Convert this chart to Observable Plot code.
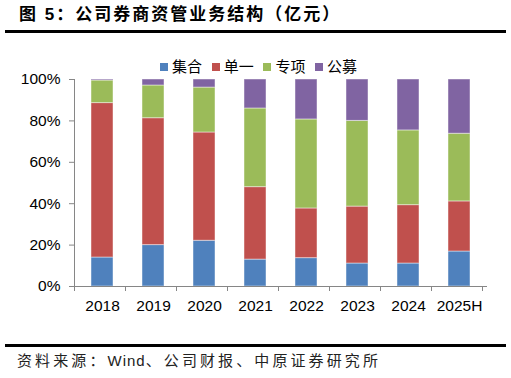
<!DOCTYPE html>
<html><head><meta charset="utf-8">
<script src="https://cdn.jsdelivr.net/npm/d3@7"></script>
<script src="https://cdn.jsdelivr.net/npm/@observablehq/plot@0.6"></script>
<style>
html,body{margin:0;padding:0;background:#fff;}
body{width:511px;height:378px;position:relative;overflow:hidden;font-family:"Liberation Sans","Noto Sans CJK SC",sans-serif;}
#title{position:absolute;left:19px;top:4px;font-size:17px;line-height:22px;font-weight:bold;color:#000;letter-spacing:2px;white-space:nowrap;}
#tline{position:absolute;left:5px;width:501px;top:30px;height:3px;background:#000;}
#fline{position:absolute;left:5px;width:501px;top:344px;height:3px;background:#000;}
#source{position:absolute;left:17px;top:351px;font-size:15px;line-height:20px;color:#222;letter-spacing:3.1px;white-space:nowrap;}
#source .en{letter-spacing:1px;}
#chart{position:absolute;left:0;top:40px;z-index:1;}
#legend{position:absolute;top:58px;left:0;width:511px;height:20px;font-size:15px;line-height:18px;color:#000;z-index:2;}
#legend .it{position:absolute;top:0;display:flex;align-items:center;white-space:nowrap;}
#legend .sw{width:8px;height:8px;display:inline-block;margin-right:4px;}
</style></head>
<body>
<div id="title">图 5：公司券商资管业务结构（亿元）</div>
<div id="tline"></div>
<div id="chart"></div>
<div id="legend"></div>
<div id="fline"></div>
<div id="source">资料来源：<span class="en">Wind</span>、公司财报、中原证券研究所</div>
<script>
const years = ["2018","2019","2020","2021","2022","2023","2024","2025H"];
const seriesNames = ["集合","单一","专项","公募"];
const colors = ["#4F81BD","#C0504D","#9BBB59","#8064A2"];
const jihe = [14.0, 20.0, 22.1, 13.0, 13.7, 11.1, 11.1, 16.9];
const danyi = [74.6, 61.3, 52.3, 35.0, 24.0, 27.5, 28.2, 24.2];
const zhuanxiang = [10.9, 15.8, 21.7, 38.0, 43.0, 41.4, 36.1, 32.7];
const gongmu = [0.5, 2.9, 3.9, 14.0, 19.3, 20.0, 24.6, 26.2];
const yTicks = [0, 20, 40, 60, 80, 100];

const seriesValues = [jihe, danyi, zhuanxiang, gongmu];
const data = [];
years.forEach((y, i) => seriesNames.forEach((s, j) => data.push({year: y, type: s, value: seriesValues[j][i]})));

const chart = Plot.plot({
  width: 511,
  height: 290,
  marginTop: 39,
  marginBottom: 44,
  marginLeft: 74,
  marginRight: 24,
  style: {fontFamily: "Liberation Sans, Arial, sans-serif", fontSize: "15.5px", color: "#000", background: "#fff"},
  x: {domain: years, paddingInner: 0.57, paddingOuter: 0.285, label: null, axis: null},
  y: {domain: [0, 100], ticks: yTicks, label: null, axis: null},
  color: {domain: seriesNames, range: colors},
  marks: [
    Plot.barY(data, {x: "year", y: "value", fill: "type", order: seriesNames, stroke: "#fff", strokeOpacity: 0.45, strokeWidth: 1}),
    Plot.axisY(yTicks, {tickSize: 5, tickPadding: 9, tickFormat: d => d + "%", stroke: "#868686", fill: "#000", fontSize: 15.5}),
    Plot.axisX(years, {tickSize: 0, tickPadding: 13, fill: "#000", fontSize: 15.5})
  ]
});
document.getElementById("chart").appendChild(chart);

// axis lines and boundary ticks built from the plot's scales
const xs = chart.scale("x"), ys = chart.scale("y");
const svg = d3.select(chart);
const y0 = ys.apply(0), y1 = ys.apply(100);
const xl = xs.range[0], xr = xs.range[1];
const g = svg.append("g").attr("stroke", "#868686").attr("stroke-width", 1);
g.append("line").attr("x1", xl + 0.5).attr("x2", xl + 0.5).attr("y1", y1).attr("y2", y0);
g.append("line").attr("x1", xl).attr("x2", xr).attr("y1", y0 + 0.5).attr("y2", y0 + 0.5);
for (let k = 0; k <= years.length; k++) {
  const x = Math.round(xl + k * xs.step) + 0.5;
  g.append("line").attr("x1", x).attr("x2", x).attr("y1", y0).attr("y2", y0 + 5);
}

// legend
const lg = document.getElementById("legend");
seriesNames.forEach((s, i) => {
  const it = document.createElement("div"); it.className = "it";
  it.style.left = (160 + i * 51.7) + "px";
  const sw = document.createElement("span"); sw.className = "sw"; sw.style.background = colors[i];
  it.appendChild(sw); it.appendChild(document.createTextNode(s));
  lg.appendChild(it);
});
</script>
</body></html>
